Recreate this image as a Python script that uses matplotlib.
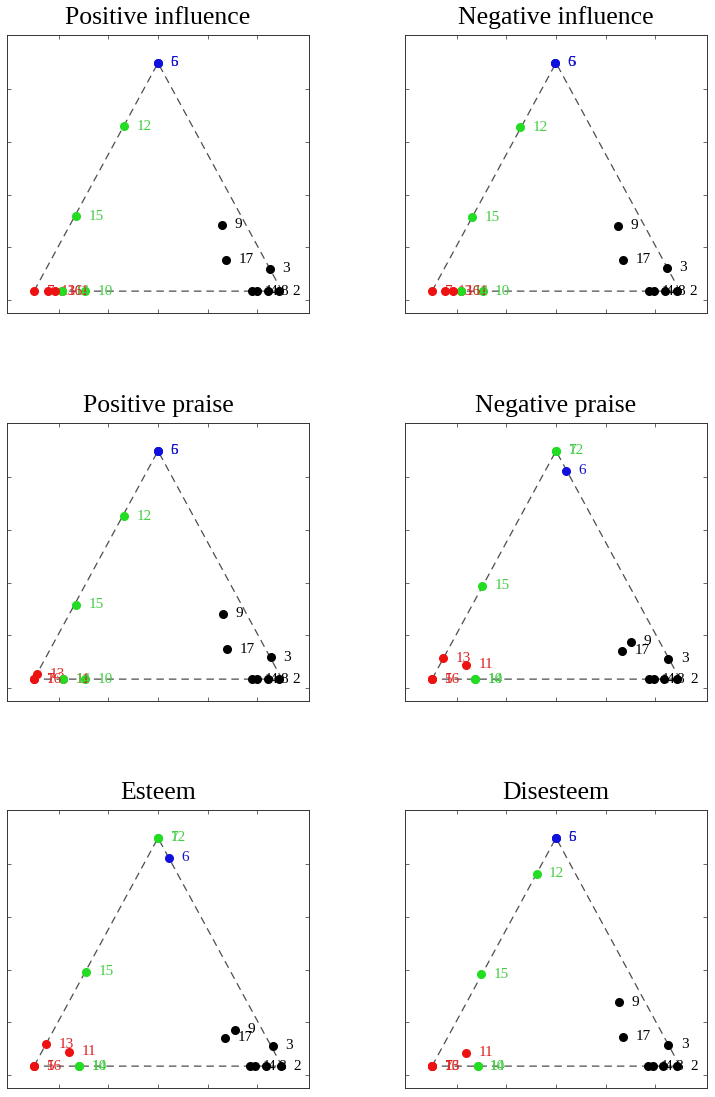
import numpy as np
import matplotlib
matplotlib.use('Agg')
import matplotlib.pyplot as plt

plt.rcParams['font.family'] = ['Liberation Serif', 'DejaVu Serif']

titles = ['Positive influence', 'Negative influence', 'Positive praise',
          'Negative praise', 'Esteem', 'Disesteem']

# point numbers 1..17
ids = list(range(1, 18))

# triangle coordinates of each point (x, y) and its cluster colour, per panel
pos_infl_x = [0.879, 0.99, 0.952, 0.899, 0.5, 0.5, 0.0, 0.944, 0.757, 0.206, 0.113, 0.363, 0.057, 0.113, 0.169, 0.085, 0.774]
pos_infl_y = [0.0, 0.0, 0.085, 0.0, 0.866, 0.866, 0.0, 0.0, 0.252, 0.0, 0.0, 0.625, 0.0, 0.0, 0.285, 0.0, 0.12]
pos_infl_c = 'kkkkbbrkkgrgrggrk'

neg_infl_x = [0.874, 0.987, 0.947, 0.894, 0.497, 0.497, 0.0, 0.94, 0.752, 0.204, 0.117, 0.356, 0.052, 0.117, 0.162, 0.086, 0.769]
neg_infl_y = [0.0, 0.0, 0.088, 0.0, 0.866, 0.866, 0.0, 0.0, 0.249, 0.0, 0.0, 0.622, 0.0, 0.0, 0.28, 0.0, 0.12]
neg_infl_c = 'kkkkbbrkkgrgrggrk'

pos_praise_x = [0.879, 0.99, 0.954, 0.899, 0.5, 0.5, 0.0, 0.944, 0.761, 0.206, 0.118, 0.363, 0.012, 0.118, 0.169, 0.0, 0.777]
pos_praise_y = [0.0, 0.0, 0.083, 0.0, 0.866, 0.866, 0.0, 0.0, 0.248, 0.0, 0.0, 0.618, 0.018, 0.0, 0.282, 0.0, 0.114]
pos_praise_c = 'kkkkbbrkkgrgrggrk'

neg_praise_x = [0.875, 0.99, 0.953, 0.895, 0.0, 0.539, 0.5, 0.935, 0.802, 0.173, 0.136, 0.5, 0.046, 0.173, 0.203, 0.0, 0.765]
neg_praise_y = [0.0, 0.0, 0.078, 0.0, 0.0, 0.79, 0.866, 0.0, 0.141, 0.0, 0.055, 0.866, 0.08, 0.0, 0.355, 0.0, 0.108]
neg_praise_c = 'kkkkrbgkkgrgrggrk'

esteem_x = [0.871, 0.995, 0.962, 0.891, 0.0, 0.544, 0.5, 0.935, 0.81, 0.183, 0.141, 0.5, 0.048, 0.183, 0.21, 0.0, 0.771]
esteem_y = [0.0, 0.0, 0.078, 0.0, 0.0, 0.791, 0.866, 0.0, 0.138, 0.0, 0.055, 0.866, 0.083, 0.0, 0.359, 0.0, 0.107]
esteem_c = 'kkkkrbgkkgrgrggrk'

disest_x = [0.87, 0.99, 0.953, 0.89, 0.5, 0.5, 0.0, 0.933, 0.755, 0.184, 0.136, 0.422, 0.0, 0.184, 0.198, 0.0, 0.769]
disest_y = [0.0, 0.0, 0.081, 0.0, 0.866, 0.866, 0.0, 0.0, 0.242, 0.0, 0.05, 0.731, 0.0, 0.0, 0.349, 0.0, 0.112]
disest_c = 'kkkkbbrkkgrgrggrk'

panels = [(pos_infl_x, pos_infl_y, pos_infl_c),
          (neg_infl_x, neg_infl_y, neg_infl_c),
          (pos_praise_x, pos_praise_y, pos_praise_c),
          (neg_praise_x, neg_praise_y, neg_praise_c),
          (esteem_x, esteem_y, esteem_c),
          (disest_x, disest_y, disest_c)]

dot_col = {'r': '#ee1111', 'g': '#22dd22', 'b': '#1111dd', 'k': '#000000'}
txt_col = {'r': '#dd2222', 'g': '#44cc44', 'b': '#1111cc', 'k': '#000000'}

tri_x = [0.0, 0.5, 1.0, 0.0]
tri_y = [0.0, np.sqrt(3) / 2, 0.0, 0.0]

fig = plt.figure(figsize=(7.15, 10.97), dpi=100)
W, H = 715.0, 1097.0
lefts = [7, 405]
tops = [35, 423, 810]

for i, (t, (px, py, pc)) in enumerate(zip(titles, panels)):
    r, c = divmod(i, 2)
    ax = fig.add_axes([lefts[c] / W, 1 - (tops[r] + 278) / H, 302 / W, 278 / H])
    ax.plot(tri_x, tri_y, '--', color='0.3', lw=0.9, dashes=(6, 4), zorder=1)
    # dot then its number, one point after the other
    for j, (n, x, y, k) in enumerate(zip(ids, px, py, pc)):
        ax.plot(x, y, 'o', color=dot_col[k], ms=5.5, mec=dot_col[k], zorder=3 + 2 * j)
        ax.annotate(str(n), (x, y), xytext=(9, 0), textcoords='offset points',
                    va='center', ha='left', fontsize=11, color=txt_col[k],
                    zorder=4 + 2 * j)
    ax.set_xlim(-0.109, 1.109)
    ax.set_ylim(-0.083, 0.972)
    ax.set_xticks([0.1, 0.3, 0.5, 0.7, 0.9])
    ax.set_yticks([0.766, 0.566, 0.366, 0.166, -0.034])
    ax.tick_params(direction='in', length=3, width=0.6, top=True, right=True,
                   labelleft=False, labelbottom=False, color='0.3')
    for s in ax.spines.values():
        s.set_linewidth(0.7)
        s.set_color('0.2')
    ax.set_title(t, fontsize=18.5, pad=8)

fig.savefig('out.png', dpi=100)
